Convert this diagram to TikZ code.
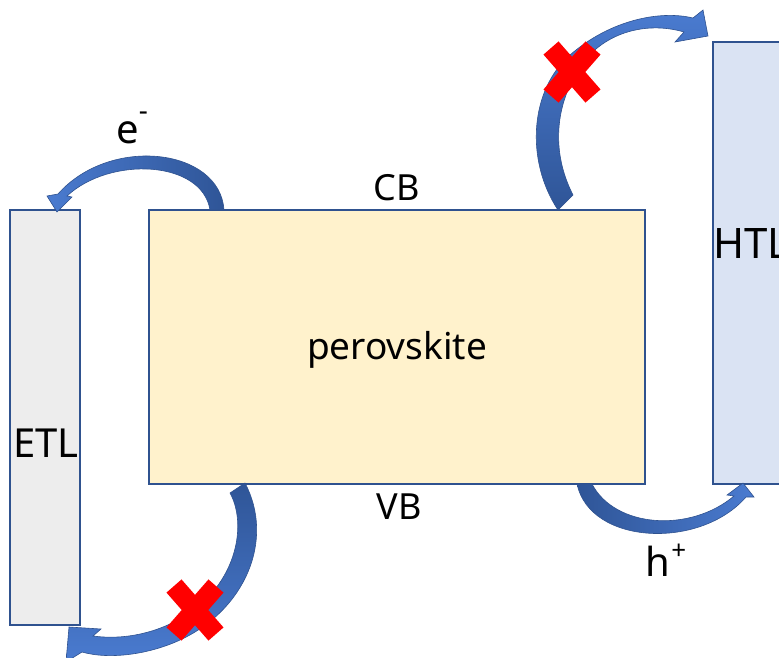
\documentclass[tikz,border=0pt]{standalone}
\usepackage{fontspec}
\setmainfont{Noto Sans}
\definecolor{boxedge}{HTML}{2F528F}
\definecolor{etlfill}{HTML}{EDEDED}
\definecolor{perofill}{HTML}{FFF2CC}
\definecolor{htlfill}{HTML}{DAE3F3}
\definecolor{arrlight}{HTML}{4A7BD0}
\definecolor{arrdark}{HTML}{2F5597}
\definecolor{xred}{HTML}{FF0000}
\tikzset{
  layer/.style={draw=boxedge, line width=2pt, inner sep=0pt, outer sep=0pt, anchor=north west},
  lbl/.style={inner sep=0pt, text=black},
  blockarrow/.style={draw=boxedge, line width=0.6pt},
  cross/.style={draw=xred, line width=20pt, line cap=butt},
}
\newcommand{\crossmark}[2]{%
  \draw[cross] (#1-21,#2-24) -- (#1+21,#2+24);
  \draw[cross] (#1-21,#2+24) -- (#1+21,#2-24);
}
\begin{document}
\begin{tikzpicture}[x=1pt,y=-1pt]
\useasboundingbox (0,0) rectangle (779,657);
\clip (0,0) rectangle (779,657);
% layers
\node[layer, fill=etlfill, minimum width=70pt, minimum height=415pt] (etl) at (10,210) {};
\node[layer, fill=perofill, minimum width=496pt, minimum height=274pt] (pero) at (149,210) {};
\node[layer, fill=htlfill, minimum width=110pt, minimum height=442pt] (htl) at (713,42) {};
% texts
\node[lbl, font=\fontsize{40}{48}\selectfont] (etltext) at (46,443) {ETL};
\node[lbl, font=\fontsize{42}{50}\selectfont, anchor=west] (htltext) at (713,243) {HTL};
\node[lbl, font=\fontsize{37}{44}\selectfont] (perotext) at (397,350) {perovskite};
\node[lbl, font=\fontsize{36}{43}\selectfont] (cb) at (397,188) {CB};
\node[lbl, font=\fontsize{36}{43}\selectfont] (vb) at (399,507) {VB};
\node[lbl, font=\fontsize{40}{48}\selectfont] (em) at (132,128) {e\raisebox{0.58em}{\fontsize{28}{28}\selectfont -}};
\node[lbl, font=\fontsize{40}{48}\selectfont] (hp) at (666,560) {h\kern1pt\raisebox{0.42em}{\fontsize{26}{26}\selectfont +}};
% arrow 1: perovskite CB -> ETL (electron extraction)
\path[blockarrow, left color=arrlight, right color=arrdark]
  (224,210) .. controls (220,148) and (110,135) .. (58,194)
  -- (47,196) -- (57,212) -- (72,197) -- (67,196)
  .. controls (110,156) and (202,160) .. (210,210) -- cycle;
% arrow 2: perovskite CB -> HTL (blocked)
\path[blockarrow, top color=arrlight, bottom color=arrdark]
  (558,210) .. controls (525,160) and (530,90) .. (570,55)
  .. controls (610,20) and (660,10) .. (693,18)
  -- (703,10) -- (708,36) -- (675,42) -- (684,32)
  .. controls (650,22) and (610,30) .. (585,60)
  .. controls (555,100) and (550,150) .. (573,195) -- cycle;
% arrow 3: perovskite VB -> ETL (blocked)
\path[blockarrow, top color=arrdark, bottom color=arrlight]
  (245,483) .. controls (275,540) and (245,610) .. (180,640)
  .. controls (150,654) and (110,660) .. (82,652)
  -- (66,662) -- (69,627) -- (101,629) -- (93,636)
  .. controls (130,641) and (170,630) .. (200,605)
  .. controls (240,570) and (245,520) .. (230,493) -- cycle;
% arrow 4: perovskite VB -> HTL (hole extraction)
\path[blockarrow, left color=arrdark, right color=arrlight]
  (577,484) .. controls (590,545) and (700,550) .. (746,497)
  -- (754,497) -- (743,483) -- (727,495) -- (734,496)
  .. controls (690,533) and (615,528) .. (592,484) -- cycle;
% blocking crosses
\crossmark{572}{72}
\crossmark{195}{610}
\end{tikzpicture}
\end{document}
